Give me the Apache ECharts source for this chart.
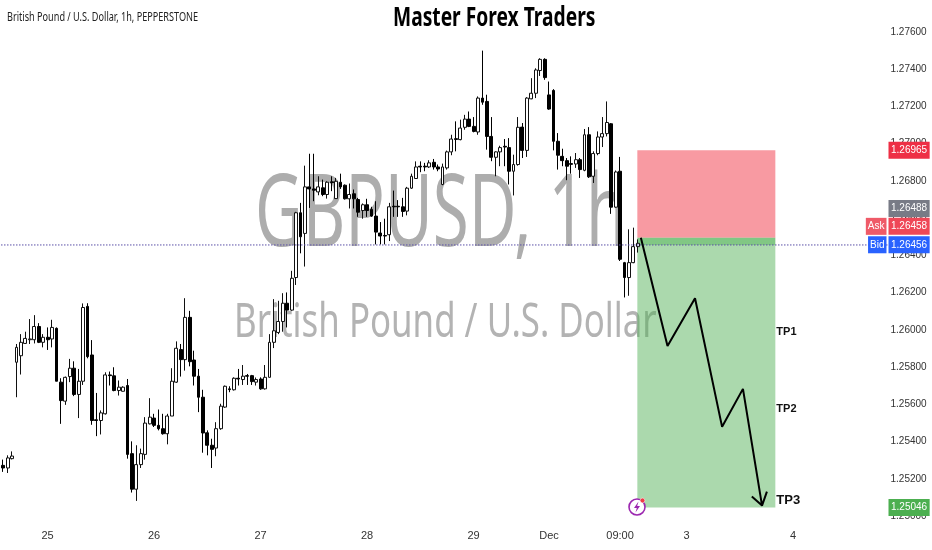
<!DOCTYPE html>
<html><head><meta charset="utf-8">
<style>html,body{margin:0;padding:0;background:#fff}#c{width:932px;height:550px}</style>
<script src="https://cdn.jsdelivr.net/npm/echarts@6/dist/echarts.min.js"></script>
</head><body><div id="c"></div>
<script>
const opens=[1.25272,1.25258,1.25308,1.25826,1.25861,1.25927,1.25947,1.25947,1.26018,1.25933,1.25960,1.25951,
1.26008,1.25719,1.25617,1.25749,1.25794,1.25653,1.25724,1.26126,1.25865,1.25517,1.25513,1.25549,
1.25758,1.25753,1.25674,1.25670,1.25701,1.25335,1.25144,1.25276,1.25331,1.25495,1.25526,1.25487,
1.25469,1.25442,1.25537,1.25719,1.25894,1.25840,1.26067,1.25838,1.25751,1.25638,1.25447,1.25380,
1.25365,1.25469,1.25585,1.25683,1.25678,1.25740,1.25733,1.25754,1.25754,1.25719,1.25736,1.25683,
1.25745,1.25933,1.25986,1.26045,1.26143,1.26106,1.26281,1.26629,1.26518,1.26768,1.26757,1.26741,
1.26763,1.26727,1.26795,1.26705,1.26793,1.26777,1.26704,1.26731,1.26700,1.26641,1.26672,1.26647,
1.26611,1.26520,1.26507,1.26511,1.26664,1.26664,1.26661,1.26638,1.26761,1.26813,1.26879,1.26879,
1.26875,1.26900,1.26875,1.26781,1.26870,1.26956,1.27027,1.27022,1.27088,1.27132,1.27093,1.27063,
1.27245,1.27227,1.27039,1.26927,1.26956,1.26986,1.26979,1.26852,1.26888,1.27089,1.26964,1.27241,
1.27271,1.27393,1.27453,1.27262,1.27286,1.27013,1.26932,1.26909,1.26893,1.26891,1.26914,1.26857,
1.27048,1.26825,1.26947,1.27036,1.27054,1.27107,1.26659,1.26852,1.26361,1.26281,1.26361,1.26447];
const closes=[1.25258,1.25312,1.25322,1.25906,1.25933,1.25954,1.25951,1.26018,1.25933,1.25960,1.25947,1.26013,
1.25724,1.25620,1.25745,1.25794,1.25653,1.25724,1.26120,1.25856,1.25513,1.25513,1.25554,1.25758,
1.25754,1.25674,1.25692,1.25692,1.25331,1.25144,1.25276,1.25335,1.25499,1.25531,1.25487,1.25469,
1.25442,1.25537,1.25724,1.25901,1.25840,1.26067,1.25829,1.25751,1.25638,1.25446,1.25380,1.25358,
1.25469,1.25590,1.25697,1.25679,1.25740,1.25736,1.25751,1.25751,1.25722,1.25733,1.25683,1.25745,
1.25933,1.25995,1.26045,1.26143,1.26106,1.26277,1.26629,1.26500,1.26768,1.26757,1.26750,1.26768,
1.26727,1.26793,1.26791,1.26798,1.26768,1.26704,1.26727,1.26704,1.26632,1.26672,1.26641,1.26611,
1.26525,1.26504,1.26504,1.26661,1.26661,1.26661,1.26636,1.26761,1.26825,1.26875,1.26875,1.26875,
1.26897,1.26875,1.26864,1.26875,1.26956,1.27025,1.27023,1.27084,1.27132,1.27093,1.27066,1.27245,
1.27223,1.27039,1.26927,1.26956,1.26979,1.26982,1.26852,1.26888,1.27088,1.26964,1.27245,1.27271,
1.27396,1.27453,1.27355,1.27186,1.27013,1.26938,1.26909,1.26879,1.26889,1.26914,1.26861,1.27048,
1.26822,1.26947,1.27036,1.27054,1.27114,1.26659,1.26848,1.26379,1.26281,1.26361,1.26447,1.26465];
const lows=[1.25237,1.25231,1.25304,1.25638,1.25760,1.25924,1.25924,1.25927,1.25929,1.25906,1.25892,1.25906,
1.25724,1.25495,1.25597,1.25719,1.25644,1.25526,1.25704,1.25847,1.25490,1.25429,1.25438,1.25545,
1.25701,1.25670,1.25647,1.25669,1.25308,1.25126,1.25081,1.25258,1.25303,1.25492,1.25478,1.25460,
1.25437,1.25385,1.25537,1.25715,1.25749,1.25781,1.25804,1.25701,1.25558,1.25340,1.25326,1.25258,
1.25321,1.25463,1.25581,1.25665,1.25674,1.25701,1.25704,1.25704,1.25704,1.25701,1.25678,1.25679,
1.25744,1.25902,1.25977,1.25990,1.26013,1.26102,1.26241,1.26411,1.26340,1.26655,1.26691,1.26723,
1.26718,1.26705,1.26745,1.26704,1.26757,1.26700,1.26652,1.26652,1.26607,1.26597,1.26607,1.26607,
1.26459,1.26459,1.26459,1.26477,1.26607,1.26607,1.26607,1.26615,1.26757,1.26811,1.26847,1.26852,
1.26870,1.26861,1.26852,1.26777,1.26861,1.26938,1.26959,1.27018,1.27075,1.27089,1.27061,1.27048,
1.27209,1.26968,1.26906,1.26825,1.26879,1.26879,1.26781,1.26722,1.26882,1.26923,1.26929,1.27239,
1.27245,1.27364,1.27343,1.27182,1.26964,1.26861,1.26879,1.26804,1.26839,1.26870,1.26816,1.26852,
1.26816,1.26789,1.26938,1.26982,1.27039,1.26623,1.26656,1.26370,1.26174,1.26183,1.26358,1.26415];
const highs=[1.25303,1.25326,1.25347,1.25924,1.25977,1.25990,1.26058,1.26079,1.26036,1.25977,1.26013,1.26054,
1.26013,1.25740,1.25749,1.25844,1.25831,1.25790,1.26142,1.26143,1.25945,1.25661,1.25567,1.25772,
1.25776,1.25799,1.25728,1.25697,1.25736,1.25401,1.25380,1.25362,1.25531,1.25633,1.25549,1.25572,
1.25549,1.25549,1.25794,1.25938,1.25924,1.26170,1.26102,1.25888,1.25790,1.25678,1.25460,1.25415,
1.25504,1.25603,1.25701,1.25697,1.25745,1.25790,1.25811,1.25763,1.25758,1.25744,1.25745,1.25811,
1.25977,1.26165,1.26156,1.26197,1.26201,1.26317,1.26634,1.26682,1.26882,1.26946,1.26946,1.26825,
1.26807,1.26798,1.26825,1.26816,1.26839,1.26781,1.26786,1.26754,1.26709,1.26679,1.26704,1.26661,
1.26691,1.26579,1.26597,1.26682,1.26748,1.26697,1.26709,1.26768,1.26839,1.26905,1.26905,1.26897,
1.26911,1.26918,1.26888,1.26893,1.26963,1.27048,1.27120,1.27129,1.27155,1.27173,1.27143,1.27254,
1.27500,1.27263,1.27143,1.26959,1.26989,1.27025,1.27030,1.26941,1.27143,1.27111,1.27250,1.27352,
1.27405,1.27459,1.27459,1.27334,1.27293,1.27057,1.26973,1.26923,1.26932,1.26950,1.26923,1.27079,
1.27089,1.26959,1.27066,1.27143,1.27227,1.27111,1.26856,1.26929,1.26365,1.26540,1.26549,1.26486];

const barCount=200;
const tickBars=[10,34,58,82,106,123,139,154,178];
const tickLabels=['25','26','27','28','29','Dec','09:00','3','4'];

const stopPrice=1.26965, entryPrice=1.26495, bidPrice=1.26456, targetPrice=1.25046;
const boxStart=143.4, boxEnd=174.5;

const pathBars=[144.2,150.2,156.4,162.5,167.2,171.5,169.2,171.5,172.6];
const pathPrices=[1.26495,1.25913,1.26170,1.25479,1.25683,1.25056,1.25105,1.25056,1.25131];

const tpLabels=['TP1','TP2','TP3'];
const tpPrices=[1.25988,1.25576,1.25083];
const tpSizes=[11,11,13];

const badgeTexts=['1.26965','1.26488','1.26458','1.26456','1.25046'];
const badgePrices=[1.26965,1.26652,1.26556,1.26457,1.25046];
const badgeColors=['#ee2f45','#787b86','#ef4757','#2962ff','#4caf50'];
const sideTexts=['Ask','Bid'];
const sidePrices=[1.26556,1.26457];
const sideColors=['#ef5a68','#2962ff'];

const SANS='"Liberation Sans",sans-serif';
const candles=opens.map((o,i)=>[o,closes[i],lows[i],highs[i]]);
const categories=Array.from({length:barCount},(_,i)=>{const k=tickBars.indexOf(i);return k<0?'':tickLabels[k];});

const chart=echarts.init(document.getElementById('c'),null,{renderer:'canvas'});
chart.setOption({
  animation:false,
  backgroundColor:'#ffffff',
  grid:{left:1,right:43.5,top:32,bottom:34,containLabel:false,outerBoundsMode:'none'},
  xAxis:[
    {type:'category',data:categories,boundaryGap:true,axisLine:{show:false},axisTick:{show:false},splitLine:{show:false},
     axisLabel:{interval:0,color:'#333',fontFamily:SANS,fontSize:11,margin:14,hideOverlap:false}},
    {type:'value',min:0,max:barCount,show:false,splitLine:{show:false}}
  ],
  yAxis:{type:'value',position:'right',min:1.25,max:1.276,interval:0.002,scale:true,
    axisLine:{show:false},axisTick:{show:false},splitLine:{show:false},
    axisLabel:{color:'#333',fontFamily:SANS,fontSize:10,margin:2,formatter:v=>v.toFixed(5)}},
  graphic:[
    {type:'text',x:255,y:168,scaleX:0.655,z:0,style:{text:'GBPUSD, 1h',fill:'#adadad',font:'100px "Noto Sans"'}},
    {type:'text',x:234,y:299,scaleX:0.726,z:0,style:{text:'British Pound / U.S. Dollar',fill:'#b3b3b3',font:'48px "Noto Sans"'}},
    {type:'text',x:393,y:5,scaleX:0.712,z:20,style:{text:'Master Forex Traders',fill:'#000',font:'bold 27px "Noto Sans"'}},
    {type:'text',x:7,y:12,scaleX:0.76,z:20,style:{text:'British Pound / U.S. Dollar, 1h, PEPPERSTONE',fill:'#222',font:'12px "Noto Sans"'}},
    {type:'circle',z:21,shape:{cx:637,cy:507,r:8},style:{fill:'#fff',stroke:'#9c27b0',lineWidth:1.6}},
    {type:'polygon',z:22,shape:{points:[[638.5,501.5],[634,508],[636.8,508],[635.5,512.5],[640,506],[637.2,506]]},style:{fill:'#9c27b0'}},
    {type:'circle',z:23,shape:{cx:642.5,cy:500.5,r:2.4},style:{fill:'#ef3b45',stroke:'#fff',lineWidth:0.5}}
  ],
  series:[
    {type:'line',xAxisIndex:1,data:[],z:1,
     markArea:{silent:true,z:1,data:[
       [{xAxis:boxStart,yAxis:stopPrice,itemStyle:{color:'rgba(242,54,69,0.5)'}},{xAxis:boxEnd,yAxis:entryPrice}],
       [{xAxis:boxStart,yAxis:entryPrice,itemStyle:{color:'rgba(76,175,80,0.7)'}},{xAxis:boxEnd,yAxis:bidPrice}],
       [{xAxis:boxStart,yAxis:bidPrice,itemStyle:{color:'rgba(76,175,80,0.47)'}},{xAxis:boxEnd,yAxis:targetPrice}]
     ]}},
    {type:'candlestick',xAxisIndex:0,data:candles,barWidth:3.4,z:2,
     itemStyle:{color:'#ffffff',color0:'#000000',borderColor:'#111',borderColor0:'#000',borderWidth:1}},
    {type:'line',xAxisIndex:1,z:3,symbol:'none',silent:true,
     data:[[0,bidPrice],[barCount,bidPrice]],lineStyle:{color:'#5a4fa8',width:1,type:[1.5,1.5]}},
    {type:'line',xAxisIndex:1,z:4,symbol:'none',silent:true,
     data:pathBars.map((b,i)=>[b,pathPrices[i]]),lineStyle:{color:'#000',width:2}},
    {type:'scatter',xAxisIndex:1,z:5,symbolSize:0,silent:true,itemStyle:{opacity:1},
     data:tpLabels.map((t,i)=>({value:[boxEnd,tpPrices[i]],label:{formatter:t,fontSize:tpSizes[i]}})),
     label:{show:true,position:'right',distance:1,color:'#111',fontWeight:'bold',fontFamily:SANS}},
    {type:'scatter',xAxisIndex:1,z:6,symbolSize:0,silent:true,clip:false,itemStyle:{opacity:1},
     data:badgeTexts.map((t,i)=>({value:[barCount,badgePrices[i]],label:{formatter:t,backgroundColor:badgeColors[i]}})),
     label:{show:true,position:'right',distance:0,color:'#fff',fontFamily:SANS,fontSize:10,padding:[3.5,2.5,3.5,2.5],lineHeight:10}},
    {type:'scatter',xAxisIndex:1,z:6,symbolSize:0,silent:true,clip:false,itemStyle:{opacity:1},
     data:sideTexts.map((t,i)=>({value:[barCount,sidePrices[i]],label:{formatter:t,backgroundColor:sideColors[i]}})),
     label:{show:true,position:'left',distance:2,color:'#fff',fontFamily:SANS,fontSize:10,padding:[3.5,2,3.5,2],lineHeight:10}}
  ]
});
</script></body></html>
